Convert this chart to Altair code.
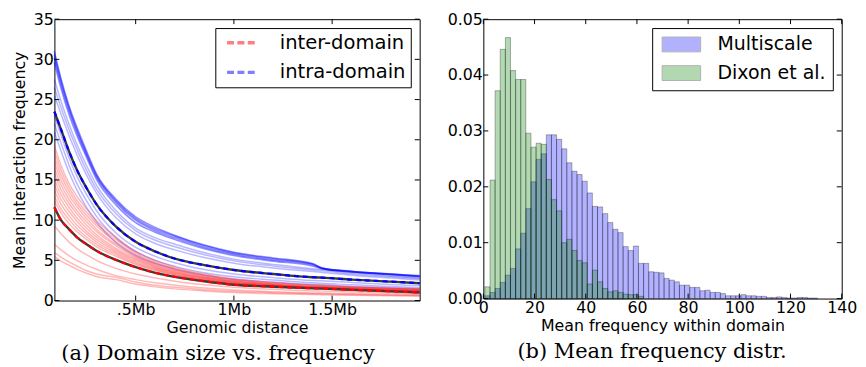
import altair as alt
import pandas as pd

# ---------------- left panel data ----------------
dist_mb = [0.0864, 0.12, 0.16, 0.2, 0.25, 0.3, 0.4, 0.5, 0.6, 0.7, 0.85, 1.0, 1.2, 1.4, 1.45, 1.6, 1.8, 1.9456]

# the dense, darker band of intra-domain curves at the top
intra_top = [
    [31.0, 27.6, 24.3, 21.6, 18.6, 15.8, 12.6, 10.4, 9.1, 8.1, 6.9, 6.0, 5.3, 4.6, 4.0, 3.6, 3.2, 2.95],
    [30.6, 27.3, 24.0, 21.3, 18.3, 15.6, 12.4, 10.2, 8.9, 8.0, 6.8, 5.9, 5.2, 4.55, 4.05, 3.65, 3.3, 3.05],
    [30.2, 26.9, 23.7, 21.0, 18.1, 15.4, 12.2, 10.0, 8.7, 7.8, 6.6, 5.75, 5.05, 4.45, 4.0, 3.6, 3.3, 3.1],
    [29.6, 26.4, 23.2, 20.6, 17.8, 15.1, 11.9, 9.7, 8.5, 7.6, 6.45, 5.6, 4.9, 4.3, 3.95, 3.55, 3.25, 3.0],
]
intra_members = [
    [27.5, 24.8, 22.0, 19.5, 16.8, 14.4, 11.2, 9.0, 7.8, 7.0, 5.95, 5.15, 4.5, 3.95, 3.85, 3.45, 3.05, 2.8],
    [26.5, 24.0, 21.3, 18.9, 16.2, 13.9, 10.8, 8.7, 7.5, 6.7, 5.7, 4.95, 4.3, 3.8, 3.7, 3.3, 2.95, 2.7],
    [25.5, 23.2, 20.6, 18.2, 15.6, 13.4, 10.3, 8.3, 7.1, 6.3, 5.35, 4.65, 4.05, 3.6, 3.5, 3.15, 2.8, 2.55],
    [23.0, 20.6, 17.8, 15.5, 13.2, 11.2, 8.4, 6.6, 5.5, 4.7, 3.85, 3.3, 2.85, 2.5, 2.45, 2.25, 2.0, 1.85],
    [22.0, 19.6, 16.9, 14.6, 12.4, 10.5, 7.8, 6.1, 5.0, 4.25, 3.45, 2.95, 2.55, 2.2, 2.15, 1.95, 1.75, 1.6],
    [21.0, 18.6, 16.0, 13.8, 11.6, 9.8, 7.2, 5.6, 4.6, 3.9, 3.15, 2.65, 2.3, 2.0, 1.95, 1.75, 1.55, 1.45],
]
intra_mean = [23.5, 21.3, 18.6, 16.3, 14.0, 12.0, 9.2, 7.3, 6.1, 5.2, 4.4, 3.8, 3.3, 2.9, 2.85, 2.6, 2.35, 2.15]

inter_members = [
    [19.3, 16.8, 14.6, 13.0, 11.4, 10.0, 7.9, 6.1, 5.0, 4.15, 3.3, 2.7, 2.25, 1.95, 1.9, 1.72, 1.57, 1.48],
    [18.6, 16.2, 14.1, 12.5, 11.0, 9.6, 7.6, 5.9, 4.8, 4.0, 3.18, 2.6, 2.17, 1.88, 1.83, 1.66, 1.5, 1.41],
    [17.9, 15.6, 13.6, 12.1, 10.6, 9.3, 7.3, 5.7, 4.65, 3.87, 3.07, 2.52, 2.1, 1.81, 1.76, 1.6, 1.44, 1.35],
    [17.2, 15.0, 13.1, 11.7, 10.2, 8.9, 7.0, 5.5, 4.5, 3.75, 2.97, 2.45, 2.04, 1.75, 1.71, 1.55, 1.39, 1.3],
    [16.5, 14.4, 12.6, 11.2, 9.8, 8.6, 6.8, 5.35, 4.38, 3.65, 2.9, 2.39, 1.99, 1.71, 1.67, 1.51, 1.35, 1.26],
    [15.8, 13.8, 12.1, 10.8, 9.4, 8.2, 6.5, 5.2, 4.26, 3.55, 2.83, 2.33, 1.94, 1.67, 1.63, 1.47, 1.31, 1.22],
    [15.1, 13.2, 11.6, 10.3, 9.0, 7.9, 6.3, 5.05, 4.15, 3.46, 2.76, 2.27, 1.9, 1.63, 1.59, 1.43, 1.27, 1.18],
    [14.4, 12.6, 11.1, 9.9, 8.6, 7.6, 6.1, 4.9, 4.04, 3.37, 2.69, 2.22, 1.86, 1.6, 1.56, 1.4, 1.24, 1.15],
    [13.7, 12.0, 10.6, 9.4, 8.3, 7.3, 5.9, 4.75, 3.93, 3.28, 2.62, 2.17, 1.82, 1.57, 1.53, 1.37, 1.21, 1.12],
    [13.0, 11.4, 10.1, 9.0, 7.9, 7.0, 5.7, 4.6, 3.82, 3.19, 2.56, 2.12, 1.78, 1.54, 1.5, 1.35, 1.19, 1.09],
    [12.4, 10.9, 9.6, 8.6, 7.6, 6.7, 5.5, 4.45, 3.72, 3.11, 2.5, 2.07, 1.75, 1.52, 1.48, 1.33, 1.16, 1.06],
    [9.3, 8.3, 7.3, 6.5, 5.7, 5.0, 4.0, 3.3, 2.8, 2.4, 1.95, 1.65, 1.4, 1.2, 1.17, 1.05, 0.93, 0.85],
    [7.0, 6.3, 5.6, 5.0, 4.4, 3.9, 3.1, 2.6, 2.2, 1.9, 1.55, 1.3, 1.1, 0.95, 0.93, 0.84, 0.75, 0.7],
    [6.0, 5.4, 4.8, 4.3, 3.7, 3.3, 2.9, 2.3, 1.9, 1.65, 1.35, 1.15, 0.97, 0.85, 0.83, 0.75, 0.67, 0.62],
    [5.5, 4.9, 4.4, 3.9, 3.4, 3.0, 2.6, 2.05, 1.7, 1.45, 1.2, 1.0, 0.85, 0.74, 0.72, 0.65, 0.58, 0.53],
]
inter_mean = [11.6, 10.0, 8.9, 7.9, 7.0, 6.2, 5.05, 4.15, 3.45, 2.95, 2.4, 1.97, 1.72, 1.52, 1.48, 1.33, 1.14, 1.0]

kinds = ["inter-domain", "intra-domain"]
kind_colors = ["red", "blue"]

left_y_ticks = [0, 5, 10, 15, 20, 25, 30, 35]
left_x_ticks = [0.5, 1.0, 1.5]
left_x_labels = [".5Mb", "1Mb", "1.5Mb"]
left_x_domain = [0.0864, 1.9456]

# ---------------- right panel data ----------------
bin_start = 0.6
bin_width = 2.0
multiscale_density = [
    0.0005, 0.0011, 0.0018, 0.0029, 0.0042, 0.0054, 0.0089, 0.0117, 0.0161, 0.0209,
    0.0249, 0.0259, 0.0293, 0.0293, 0.0285, 0.0268, 0.0243, 0.0228, 0.0222, 0.0210,
    0.0189, 0.0165, 0.0164, 0.0152, 0.0136, 0.0124, 0.0118, 0.0093, 0.0086, 0.0094,
    0.0063, 0.0063, 0.0048, 0.0047, 0.0046, 0.0036, 0.0033, 0.0030, 0.0024, 0.0024,
    0.0020, 0.0020, 0.0014, 0.0015, 0.0011, 0.0011, 0.0009, 0.0005, 0.0005, 0.0005,
    0.0007, 0.0005, 0.0005, 0.0004, 0.0004, 0.0002, 0.0002, 0.0003, 0.0002, 0.0001,
    0.0001, 0.0002, 0.0002, 0.0001, 0.0001,
]
dixon_density = [
    0.0021, 0.0212, 0.0372, 0.0446, 0.0467, 0.0408, 0.0392, 0.0392, 0.0296, 0.0271,
    0.0278, 0.0276, 0.0213, 0.0177, 0.0157, 0.0100, 0.0106, 0.0086, 0.0068, 0.0064,
    0.0026, 0.0051, 0.0030, 0.0018, 0.0012, 0.0014, 0.0011, 0.0008, 0.0007, 0.0007,
    0.0004,
]
series = ["Multiscale", "Dixon et al."]
series_colors = ["blue", "green"]
right_x_ticks = [0, 20, 40, 60, 80, 100, 120, 140]
right_y_ticks = [0.0, 0.01, 0.02, 0.03, 0.04, 0.05]

# ---------------- build tables ----------------
def curves_to_rows(curves, prefix, kind):
    out = []
    for i, c in enumerate(curves):
        for x, y in zip(dist_mb, c):
            out.append({"x": x, "y": y, "curve": f"{prefix}{i}", "kind": kind})
    return out

members_df = pd.DataFrame(
    curves_to_rows(intra_members, "intra", kinds[1]) + curves_to_rows(inter_members, "inter", kinds[0])
)
top_df = pd.DataFrame(curves_to_rows(intra_top, "top", kinds[1]))
means_df = pd.DataFrame(
    curves_to_rows([intra_mean], "intra_mean", kinds[1]) + curves_to_rows([inter_mean], "inter_mean", kinds[0])
)

brows = []
for i, v in enumerate(multiscale_density):
    s = bin_start + i * bin_width
    brows.append({"start": s, "end": s + bin_width, "density": v, "series": series[0]})
for i, v in enumerate(dixon_density):
    s = bin_start + i * bin_width
    brows.append({"start": s, "end": s + bin_width, "density": v, "series": series[1]})
bars_df = pd.DataFrame(brows)

FONT = "DejaVu Sans"
LW, LH = 370, 285
RW, RH = 363, 283
TICK = 5

# ---------------- left chart ----------------
lx_scale = alt.Scale(domain=left_x_domain, nice=False, zero=False)
ly_scale = alt.Scale(domain=[0, 35], nice=False)
label_expr = " : ".join(
    [f"datum.value == {v} ? '{l}'" for v, l in zip(left_x_ticks[:-1], left_x_labels[:-1])]
    + [f"'{left_x_labels[-1]}'"]
)
lx_axis = alt.Axis(values=left_x_ticks, labelExpr=label_expr, title="Genomic distance")
ly_axis = alt.Axis(values=left_y_ticks, title="Mean interaction frequency", titlePadding=6, titleLimit=400)

color_scale_left = alt.Scale(domain=kinds, range=kind_colors)
color_left = alt.Color(
    "kind:N",
    scale=color_scale_left,
    legend=alt.Legend(
        title=None, orient="top-right", offset=9, padding=5,
        strokeColor="black", fillColor="white", cornerRadius=0,
        labelFont=FONT, labelFontSize=19.8, labelColor="black",
        symbolType="M-2,0H2", symbolSize=225, symbolDash=[7, 3.5],
        symbolStrokeWidth=3.5, symbolOpacity=0.5,
        symbolOffset=12, labelOffset=28.5, rowPadding=9,
    ),
)

members = alt.Chart(members_df).mark_line(strokeWidth=1.5, opacity=0.28, interpolate="monotone").encode(
    x=alt.X("x:Q", scale=lx_scale, axis=lx_axis),
    y=alt.Y("y:Q", scale=ly_scale, axis=ly_axis),
    color=color_left,
    detail="curve:N",
)
top_band = alt.Chart(top_df).mark_line(strokeWidth=1.6, opacity=0.45, interpolate="monotone").encode(
    x=alt.X("x:Q", scale=lx_scale),
    y=alt.Y("y:Q", scale=ly_scale),
    color=alt.Color("kind:N", scale=color_scale_left, legend=None),
    detail="curve:N",
)
means_black = alt.Chart(means_df).mark_line(strokeWidth=2.4, color="#3a3a3a", interpolate="monotone").encode(
    x=alt.X("x:Q", scale=lx_scale),
    y=alt.Y("y:Q", scale=ly_scale),
    detail="curve:N",
)
means_dash = alt.Chart(means_df).mark_line(strokeWidth=2.2, strokeDash=[5, 4], interpolate="monotone").encode(
    x=alt.X("x:Q", scale=lx_scale),
    y=alt.Y("y:Q", scale=ly_scale),
    color=color_left,
    detail="curve:N",
)

lyt = pd.DataFrame({"v": left_y_ticks})
lxt = pd.DataFrame({"v": left_x_ticks})
lt1 = alt.Chart(lyt).mark_rule(color="black").encode(y=alt.Y("v:Q", scale=ly_scale), x=alt.value(0), x2=alt.value(TICK))
lt2 = alt.Chart(lyt).mark_rule(color="black").encode(y=alt.Y("v:Q", scale=ly_scale), x=alt.value(LW - TICK), x2=alt.value(LW))
lt3 = alt.Chart(lxt).mark_rule(color="black").encode(x=alt.X("v:Q", scale=lx_scale), y=alt.value(LH - TICK), y2=alt.value(LH))
lt4 = alt.Chart(lxt).mark_rule(color="black").encode(x=alt.X("v:Q", scale=lx_scale), y=alt.value(0), y2=alt.value(TICK))

left = alt.layer(members, top_band, means_black, means_dash, lt1, lt2, lt3, lt4).properties(
    width=LW, height=LH,
    title=alt.TitleParams("(a) Domain size vs. frequency", orient="bottom", frame="bounds",
                          anchor="middle", font="DejaVu Serif", fontSize=21.2,
                          fontWeight="normal", color="black", offset=8),
)

# ---------------- right chart ----------------
rx_scale = alt.Scale(domain=[0, 140], nice=False, zero=False)
ry_scale = alt.Scale(domain=[0, 0.05], nice=False)

bars = alt.Chart(bars_df).mark_bar(fillOpacity=0.3, stroke="black", strokeOpacity=0.3, strokeWidth=1).encode(
    x=alt.X("start:Q", scale=rx_scale,
            axis=alt.Axis(values=right_x_ticks, format="d", title="Mean frequency within domain")),
    x2="end:Q",
    y=alt.Y("density:Q", scale=ry_scale, axis=alt.Axis(values=right_y_ticks, format=".2f", title=None)),
    y2=alt.datum(0),
    fill=alt.Fill(
        "series:N",
        scale=alt.Scale(domain=series, range=series_colors),
        legend=alt.Legend(
            title=None, orient="top-right", offset=9, padding=7,
            strokeColor="black", fillColor="white", cornerRadius=0,
            labelFont=FONT, labelFontSize=19.2, labelColor="black",
            symbolType="M-2.6,-1H2.6V1H-2.6Z", symbolSize=225,
            symbolOpacity=0.3, symbolStrokeColor="black", symbolStrokeWidth=1,
            symbolOffset=13, labelOffset=27, rowPadding=9,
            labelExpr="datum.label + '  '",
        ),
    ),
)
ryt = pd.DataFrame({"v": right_y_ticks})
rxt = pd.DataFrame({"v": right_x_ticks})
rt1 = alt.Chart(ryt).mark_rule(color="black").encode(y=alt.Y("v:Q", scale=ry_scale), x=alt.value(0), x2=alt.value(TICK))
rt2 = alt.Chart(ryt).mark_rule(color="black").encode(y=alt.Y("v:Q", scale=ry_scale), x=alt.value(RW - TICK), x2=alt.value(RW))
rt3 = alt.Chart(rxt).mark_rule(color="black").encode(x=alt.X("v:Q", scale=rx_scale), y=alt.value(RH - TICK), y2=alt.value(RH))
rt4 = alt.Chart(rxt).mark_rule(color="black").encode(x=alt.X("v:Q", scale=rx_scale), y=alt.value(0), y2=alt.value(TICK))

right = alt.layer(bars, rt1, rt2, rt3, rt4).properties(
    width=RW, height=RH,
    title=alt.TitleParams("(b) Mean frequency distr.", orient="bottom", frame="bounds",
                          anchor="middle", font="DejaVu Serif", fontSize=21.2,
                          fontWeight="normal", color="black", offset=8),
)

chart = alt.hconcat(left, right, spacing=20.5).resolve_scale(
    color="independent", fill="independent"
).resolve_legend(
    color="independent", fill="independent"
).properties(
    padding={"left": 3, "top": 0, "right": 0, "bottom": 0}
).configure_view(
    stroke="black", strokeWidth=1
).configure_axis(
    domain=False, ticks=False, grid=False, labelFlush=False,
    labelFont=FONT, labelFontSize=16, labelColor="black", labelPadding=1,
    titleFont=FONT, titleFontSize=16, titleFontWeight="normal", titleColor="black", titlePadding=2,
)

chart.save("out.html", embed_options={"renderer": "svg", "actions": False})
